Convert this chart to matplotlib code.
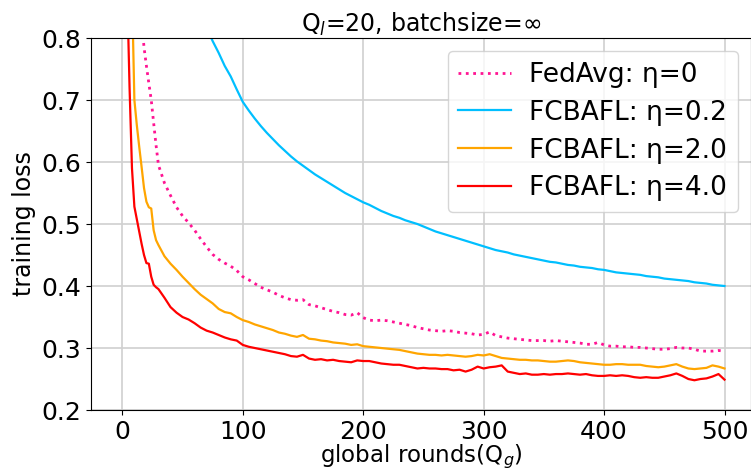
import matplotlib
matplotlib.use("Agg")
import matplotlib.pyplot as plt

# recorded rounds: dense at the start, every 5 rounds afterwards
rounds = list(range(0, 30, 2)) + list(range(30, 100, 5)) + list(range(100, 505, 5))

fedavg = [2.3, 1.9, 1.6, 1.38, 1.2, 1.06, 0.96, 0.88, 0.83, 0.785, 0.755, 0.727, 0.70, 0.663, 0.627,
          0.595, 0.566, 0.546, 0.527, 0.513, 0.502, 0.490, 0.476, 0.463, 0.451, 0.443, 0.437, 0.432, 0.425,
          0.415, 0.410, 0.404, 0.398, 0.394, 0.390, 0.385, 0.381, 0.378, 0.377, 0.378, 0.370, 0.368, 0.365,
          0.362, 0.359, 0.357, 0.354, 0.353, 0.357, 0.349,
          0.345, 0.344, 0.345, 0.344, 0.342, 0.340, 0.338, 0.336, 0.333, 0.331, 0.329, 0.328, 0.327, 0.328,
          0.327, 0.325, 0.324, 0.323, 0.321, 0.322,
          0.326, 0.320, 0.318, 0.316, 0.315, 0.314, 0.313, 0.312, 0.312, 0.312, 0.311, 0.312, 0.311, 0.310,
          0.309, 0.308, 0.306, 0.306, 0.309, 0.305,
          0.303, 0.303, 0.302, 0.302, 0.301, 0.301, 0.300, 0.299, 0.298, 0.298, 0.299, 0.301, 0.300, 0.300,
          0.298, 0.295, 0.295, 0.295, 0.296, 0.295]

eta02 = [2.3, 2.0, 1.8, 1.66, 1.56, 1.48, 1.42, 1.36, 1.31, 1.27, 1.23, 1.20, 1.17, 1.14, 1.11,
         1.09, 1.04, 0.995, 0.955, 0.92, 0.89, 0.862, 0.838, 0.817, 0.795, 0.776, 0.755, 0.738, 0.717,
         0.697, 0.683, 0.670, 0.658, 0.647, 0.637, 0.627, 0.618, 0.609, 0.601, 0.594, 0.587, 0.580, 0.574,
         0.568, 0.562, 0.556, 0.550, 0.545, 0.540, 0.535,
         0.531, 0.526, 0.521, 0.517, 0.513, 0.510, 0.506, 0.503, 0.500, 0.496, 0.492, 0.488, 0.485, 0.482,
         0.479, 0.476, 0.473, 0.470, 0.467, 0.464,
         0.461, 0.458, 0.456, 0.454, 0.451, 0.449, 0.447, 0.445, 0.443, 0.441, 0.439, 0.438, 0.436, 0.434,
         0.433, 0.431, 0.430, 0.429, 0.427, 0.426,
         0.424, 0.422, 0.421, 0.420, 0.419, 0.418, 0.416, 0.415, 0.414, 0.412, 0.411, 0.410, 0.409, 0.408,
         0.406, 0.405, 0.404, 0.402, 0.401, 0.400]

eta20 = [2.3, 1.7, 1.3, 1.05, 0.88, 0.70, 0.66, 0.625, 0.592, 0.558, 0.536, 0.527, 0.525, 0.490, 0.474,
         0.466, 0.448, 0.436, 0.426, 0.415, 0.405, 0.395, 0.386, 0.379, 0.372, 0.363, 0.358, 0.356, 0.350,
         0.345, 0.342, 0.338, 0.335, 0.332, 0.329, 0.325, 0.323, 0.320, 0.318, 0.321, 0.315, 0.314, 0.312,
         0.311, 0.309, 0.308, 0.307, 0.305, 0.306, 0.303,
         0.302, 0.301, 0.300, 0.299, 0.298, 0.297, 0.295, 0.293, 0.291, 0.290, 0.289, 0.289, 0.288, 0.289,
         0.288, 0.287, 0.286, 0.287, 0.289, 0.288,
         0.290, 0.287, 0.284, 0.283, 0.282, 0.281, 0.281, 0.280, 0.280, 0.279, 0.278, 0.278, 0.279, 0.280,
         0.279, 0.277, 0.276, 0.275, 0.274, 0.273,
         0.273, 0.274, 0.274, 0.273, 0.273, 0.273, 0.271, 0.270, 0.269, 0.270, 0.272, 0.274, 0.270, 0.267,
         0.266, 0.267, 0.268, 0.272, 0.270, 0.267]

eta40 = [2.3, 1.5, 0.88, 0.72, 0.59, 0.528, 0.508, 0.488, 0.468, 0.450, 0.437, 0.436, 0.415, 0.402, 0.398,
         0.395, 0.381, 0.366, 0.357, 0.350, 0.346, 0.340, 0.333, 0.328, 0.325, 0.321, 0.317, 0.314, 0.312,
         0.305, 0.302, 0.300, 0.298, 0.296, 0.294, 0.292, 0.290, 0.287, 0.286, 0.289, 0.283, 0.281, 0.282,
         0.280, 0.281, 0.279, 0.278, 0.277, 0.280, 0.279,
         0.279, 0.277, 0.275, 0.274, 0.273, 0.273, 0.271, 0.269, 0.267, 0.268, 0.267, 0.267, 0.266, 0.266,
         0.264, 0.265, 0.262, 0.265, 0.270, 0.267,
         0.269, 0.270, 0.272, 0.262, 0.260, 0.258, 0.259, 0.257, 0.257, 0.258, 0.257, 0.258, 0.258, 0.259,
         0.258, 0.257, 0.258, 0.256, 0.255, 0.255,
         0.256, 0.255, 0.256, 0.255, 0.253, 0.252, 0.253, 0.252, 0.252, 0.254, 0.256, 0.259, 0.255, 0.250,
         0.248, 0.250, 0.251, 0.254, 0.258, 0.249]

labels = ["FedAvg: η=0", "FCBAFL: η=0.2", "FCBAFL: η=2.0", "FCBAFL: η=4.0"]

plt.rcParams["font.family"] = "DejaVu Sans"

fig = plt.figure(figsize=(7.51, 4.75), dpi=100)
ax = fig.add_axes([0.1212, 0.1368, 0.8788, 0.7832])

ax.plot(rounds, fedavg, linestyle=":", color="deeppink", linewidth=2, label=labels[0])
ax.plot(rounds, eta02, color="deepskyblue", linewidth=1.6, label=labels[1])
ax.plot(rounds, eta20, color="orange", linewidth=1.6, label=labels[2])
ax.plot(rounds, eta40, color="red", linewidth=1.6, label=labels[3])

ax.set_xlim(-26, 522)
ax.set_ylim(0.2, 0.8)
ax.set_xticks([0, 100, 200, 300, 400, 500])
ax.set_yticks([0.2, 0.3, 0.4, 0.5, 0.6, 0.7, 0.8])
ax.tick_params(axis="both", labelsize=18)
ax.grid(True, color="#d0d0d0", linewidth=1.2)
ax.set_axisbelow(True)

ax.set_title("Q$_l$=20, batchsize=∞", fontsize=17, pad=3)
ax.set_xlabel("global rounds(Q$_g$)", fontsize=16.5, labelpad=-1)
ax.set_ylabel("training loss", fontsize=17, labelpad=4)

ax.legend(loc="upper right", fontsize=19, handlelength=2.0, handletextpad=0.7,
          borderaxespad=0.5, labelspacing=0.45)

fig.savefig("out.png", dpi=100)
